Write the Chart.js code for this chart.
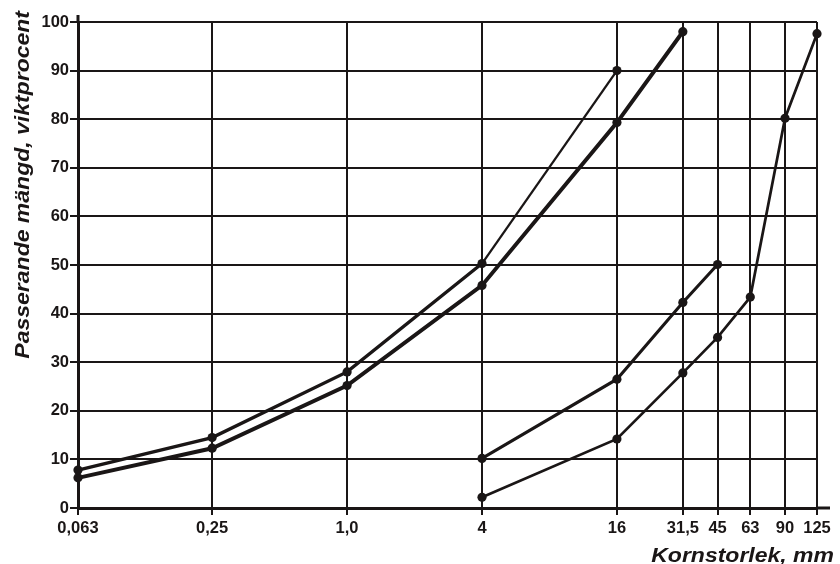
<!DOCTYPE html>
<html>
<head>
<meta charset="utf-8">
<script src="https://cdn.jsdelivr.net/npm/chart.js@4"></script>
<style>
  html, body { margin: 0; padding: 0; background: #ffffff; }
  #wrap { width: 840px; height: 564px; }
</style>
</head>
<body>
<div id="wrap"><canvas id="c" width="840" height="564"></canvas></div>
<script>
// ---- data ----
const xTickValues = [0.063, 0.25, 1.0, 4, 16, 31.5, 45, 63, 90, 125];
const xTickLabels = ['0,063', '0,25', '1,0', '4', '16', '31,5', '45', '63', '90', '125'];
const yTickValues = [0, 10, 20, 30, 40, 50, 60, 70, 80, 90, 100];

const seriesA_x = [0.063, 0.25, 1.0, 4, 16];
const seriesA_y = [7.8, 14.5, 28.0, 50.3, 90.0];

const seriesB_x = [0.063, 0.25, 1.0, 4, 16, 31.5];
const seriesB_y = [6.2, 12.3, 25.2, 45.8, 79.3, 98.0];

const seriesC_x = [4, 16, 31.5, 45];
const seriesC_y = [10.2, 26.5, 42.3, 50.1];

const seriesD_x = [4, 16, 31.5, 45, 63, 90, 125];
const seriesD_y = [2.2, 14.2, 27.8, 35.1, 43.4, 80.2, 97.6];

const yTitle = 'Passerande mängd, viktprocent';
const xTitle = 'Kornstorlek, mm';

// ---- styling ----
const INK = '#1a1616';
const FONT = '"Liberation Sans", Arial, Helvetica, sans-serif';

function pts(xs, ys) { return xs.map((x, i) => ({ x: x, y: ys[i] })); }

function ds(xs, ys, width) {
  return {
    data: pts(xs, ys),
    borderColor: INK,
    backgroundColor: INK,
    borderWidth: width,
    pointRadius: 4.6,
    pointBackgroundColor: INK,
    pointBorderWidth: 0,
    pointHoverRadius: 4.6,
    tension: 0,
    clip: false,
    showLine: true
  };
}

const dA = ds(seriesA_x, seriesA_y, 3.4);
dA.segment = { borderWidth: ctx => (ctx.p0DataIndex === 3 ? 2.3 : 3.4) };
const dB = ds(seriesB_x, seriesB_y, 4);
const dC = ds(seriesC_x, seriesC_y, 3.1);
const dD = ds(seriesD_x, seriesD_y, 2.7);

const extrasPlugin = {
  id: 'extras',
  afterDraw(chart) {
    const { ctx, chartArea } = chart;
    ctx.save();
    // axis line extensions
    ctx.strokeStyle = INK;
    ctx.lineWidth = 3;
    ctx.beginPath();
    ctx.moveTo(chartArea.right, chartArea.bottom);
    ctx.lineTo(chartArea.right + 13, chartArea.bottom);
    ctx.moveTo(chartArea.left, chartArea.top);
    ctx.lineTo(chartArea.left, chartArea.top - 7);
    ctx.stroke();
    // axis titles (wide bold italic lettering)
    ctx.fillStyle = INK;
    ctx.font = 'italic bold 20px ' + FONT;
    ctx.textBaseline = 'alphabetic';
    ctx.textAlign = 'right';
    ctx.save();
    ctx.translate(834, 562);
    ctx.scale(1.15, 1);
    ctx.fillText(xTitle, 0, 0);
    ctx.restore();
    ctx.save();
    ctx.translate(29, 11);
    ctx.rotate(-Math.PI / 2);
    ctx.scale(1.15, 1);
    ctx.fillText(yTitle, 0, 0);
    ctx.restore();
    ctx.restore();
  }
};

new Chart(document.getElementById('c'), {
  type: 'scatter',
  data: { datasets: [dA, dB, dC, dD] },
  options: {
    responsive: false,
    animation: false,
    devicePixelRatio: 1,
    layout: { padding: { left: 0, right: 23, top: 22, bottom: 0 } },
    plugins: { legend: { display: false }, tooltip: { enabled: false } },
    scales: {
      x: {
        type: 'logarithmic',
        min: 0.063,
        max: 125,
        afterBuildTicks: axis => { axis.ticks = xTickValues.map(v => ({ value: v })); },
        afterFit: axis => { axis.height = 56; },
        ticks: {
          autoSkip: false,
          maxRotation: 0,
          minRotation: 0,
          padding: 4,
          color: INK,
          font: { family: FONT, size: 16.5, weight: 'bold' },
          callback: (v, i) => xTickLabels[i]
        },
        grid: { color: INK, lineWidth: 2, tickLength: 7, tickWidth: 2, drawTicks: true },
        border: { display: true, color: INK, width: 3 }
      },
      y: {
        type: 'linear',
        min: 0,
        max: 100,
        afterBuildTicks: axis => { axis.ticks = yTickValues.map(v => ({ value: v })); },
        afterFit: axis => { axis.width = 78; },
        ticks: {
          autoSkip: false,
          padding: 1,
          color: INK,
          font: { family: FONT, size: 16.5, weight: 'bold' },
          callback: v => String(v)
        },
        grid: { color: INK, lineWidth: 2, tickLength: 8, tickWidth: 2, drawTicks: true },
        border: { display: true, color: INK, width: 3 }
      }
    }
  },
  plugins: [extrasPlugin]
});
</script>
</body>
</html>
